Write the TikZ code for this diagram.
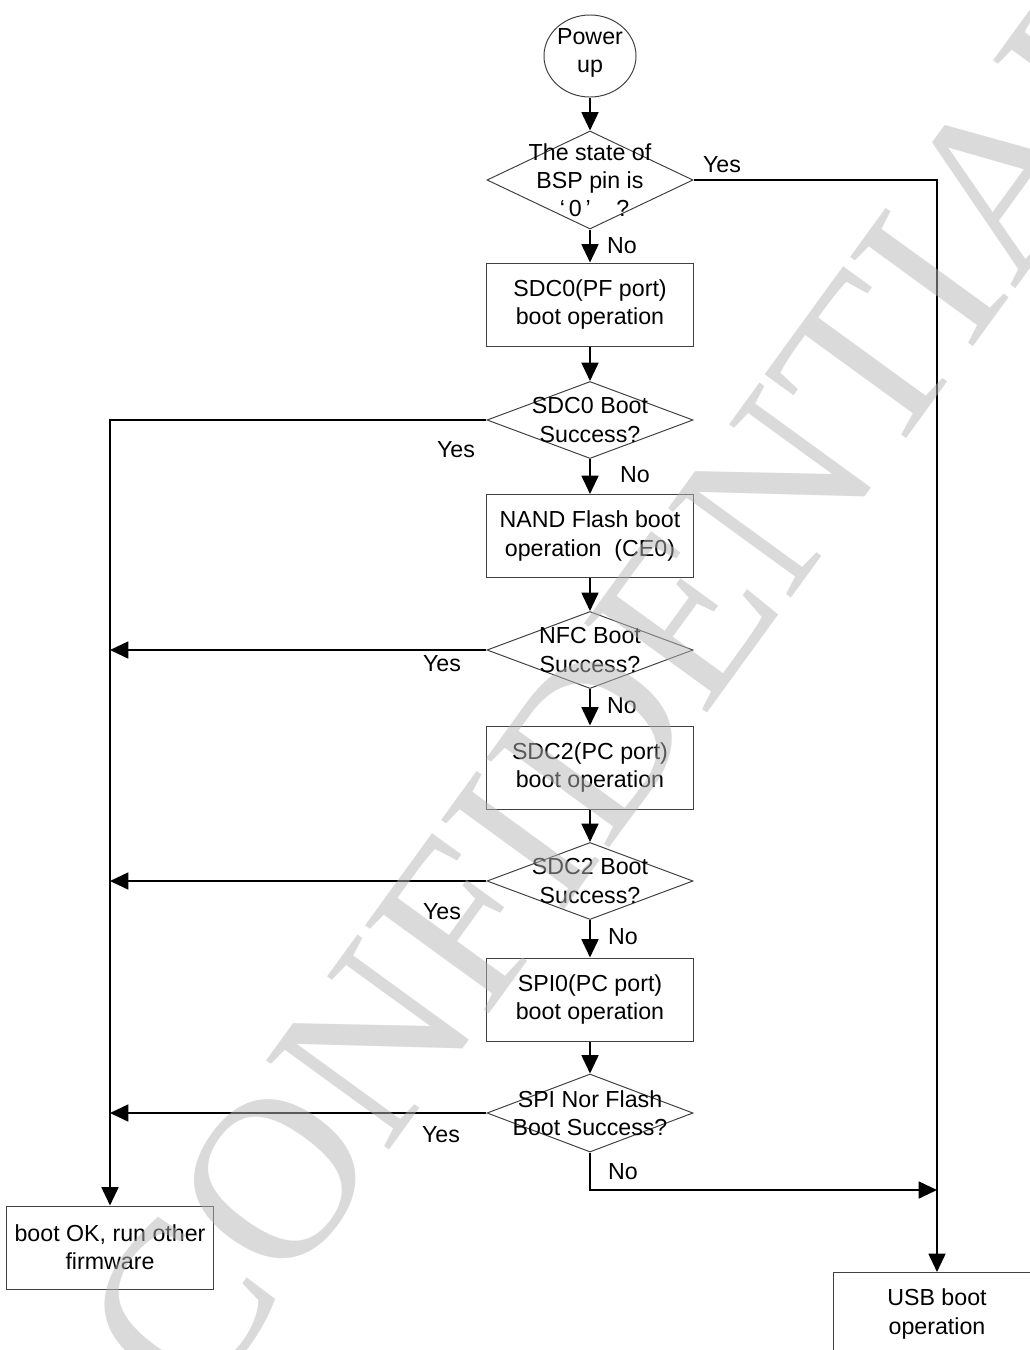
\documentclass[tikz,border=0pt]{standalone}
\usepackage{fontspec}
\setmainfont{Liberation Sans}
\newfontfamily\wmfont{Liberation Serif}
\usepackage{tikz}
\usetikzlibrary{shapes.geometric,arrows.meta}
\definecolor{fcgray}{rgb}{0.25,0.25,0.25}
\definecolor{fcmark}{rgb}{0.71,0.71,0.71}
\tikzstyle{fctext}=[align=center, inner sep=0pt, font=\fontsize{16.5}{20}\selectfont]
\tikzstyle{fcbox}=[rectangle, draw=fcgray, line width=0.7pt, fctext, minimum width=5.15cm, minimum height=2.075cm]
\tikzstyle{fcdecision}=[diamond, draw=fcgray, line width=0.7pt, inner sep=0pt, minimum width=5.15cm, minimum height=1.925cm]
\tikzstyle{fcstart}=[ellipse, draw=fcgray, line width=0.7pt, inner sep=0pt, minimum width=2.3cm, minimum height=2.05cm]
\tikzstyle{fcarrow}=[draw, line width=1.4pt, -{Triangle[length=13pt,width=12pt]}]
\tikzstyle{fcwatermark}=[inner sep=0pt, text=fcmark, opacity=0.5, font=\wmfont\fontsize{165}{165}\selectfont]
\newcommand{\fcbox}[3]{
	\node[fcbox] (#1) at (#2) {#3};}
\newcommand{\fcdecision}[4]{
	\node[fcdecision, minimum height=#3] (#1) at (#2) {};
	\node[fctext] (#1t) at (#2) {#4};}

\begin{document}
\begin{tikzpicture}[x=0.025cm, y=-0.025cm]
\useasboundingbox (0,0) rectangle (1030,1350);

\node[fcstart] (pwr) at (590,56) {};
\node[fctext] (pwrt) at (590,53) {Power\\up};

\fcdecision{d1}{590,180}{2.45cm}{The state of\\BSP pin is\\\hspace{0.4em}‘\,0\,’\hspace{1.1em}?}
\fcbox{sdc0}{590,304.5}{SDC0(PF port)\\boot operation}
\fcdecision{d2}{590,420}{1.925cm}{SDC0 Boot\\Success?}
\fcbox{nand}{590,536}{NAND Flash boot\\operation\ \ (CE0)}
\fcdecision{d3}{590,650}{1.925cm}{NFC Boot\\Success?}
\fcbox{sdc2}{590,767.5}{SDC2(PC port)\\boot operation}
\fcdecision{d4}{590,881}{1.925cm}{SDC2 Boot\\Success?}
\fcbox{spi0}{590,999.5}{SPI0(PC port)\\boot operation}
\fcdecision{d5}{590,1113}{1.95cm}{SPI Nor Flash\\Boot Success?}

\fcbox{bootok}{110,1247.5}{boot OK, run other\\firmware}
\fcbox{usb}{937,1314}{USB boot\\operation}

% yes / no labels
\node[fctext] (y1) at (722,165) {Yes};
\node[fctext] (n1) at (622,246) {No};
\node[fctext] (y2) at (456,450) {Yes};
\node[fctext] (n2) at (635,475) {No};
\node[fctext] (y3) at (442,664) {Yes};
\node[fctext] (n3) at (622,706) {No};
\node[fctext] (y4) at (442,912) {Yes};
\node[fctext] (n4) at (623,937) {No};
\node[fctext] (y5) at (441,1135) {Yes};
\node[fctext] (n5) at (623,1172) {No};

% corners
\coordinate (c1) at (937,180);
\coordinate (c2) at (110,420);
\coordinate (j3) at (110,650);
\coordinate (j4) at (110,881);
\coordinate (j5) at (110,1113);
\coordinate (c5) at (590,1190);
\coordinate (k5) at (937,1190);

\path[fcarrow] (pwr) -- (d1);
\path[fcarrow] (d1) -- (sdc0);
\path[fcarrow] (sdc0) -- (d2);
\path[fcarrow] (d2) -- (nand);
\path[fcarrow] (nand) -- (d3);
\path[fcarrow] (d3) -- (sdc2);
\path[fcarrow] (sdc2) -- (d4);
\path[fcarrow] (d4) -- (spi0);
\path[fcarrow] (spi0) -- (d5);
\path[fcarrow] (d1.east) -- (c1) -- (usb.north);
\path[fcarrow] (d2.west) -- (c2) -- (bootok.north);
\path[fcarrow] (d3.west) -- (j3);
\path[fcarrow] (d4.west) -- (j4);
\path[fcarrow] (d5.west) -- (j5);
\path[fcarrow] (d5.south) -- (c5) -- (k5);

\node[fcwatermark, rotate=54] (wm) at (635,684) {CONFIDENTIAL};
\end{tikzpicture}
\end{document}
